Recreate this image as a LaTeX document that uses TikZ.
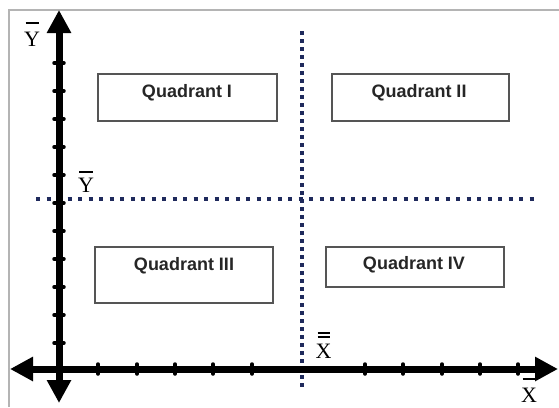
\documentclass[tikz,border=0pt]{standalone}
\usepackage{fontspec}
\setmainfont{Liberation Serif}
\newfontfamily\qfont{Liberation Sans}
\usetikzlibrary{arrows.meta}
\definecolor{navy}{HTML}{1F2A5C}
\definecolor{boxgray}{HTML}{555555}
\definecolor{framegray}{HTML}{B4B4B4}
\begin{document}
\begin{tikzpicture}[x=1pt,y=-1pt,
  bigtip/.tip={Triangle[width=23pt,length=23pt]},
  axisline/.style={line width=7pt,bigtip-bigtip},
  tickmark/.style={line width=3.5pt,line cap=round},
  dotv/.style={navy,line width=3.5pt,dash pattern=on 3.5pt off 4.5pt},
  doth/.style={navy,line width=4pt,dash pattern=on 4pt off 6.5pt},
  qbox/.style={draw=boxgray,line width=1.5pt,fill=white,inner sep=0pt},
  qtext/.style={font=\qfont\bfseries\fontsize{18}{20}\selectfont,text=black!85,inner sep=0pt},
  barlbl/.style={font=\fontsize{22}{22}\selectfont,align=center,inner sep=0pt}
]
\useasboundingbox (0,0) rectangle (559,407);
% frame
\draw[framegray,line width=1.5pt] (9,407) -- (9,10) -- (559,10);
% coordinates
\coordinate (ytop) at (59,10);
\coordinate (ybot) at (59,403);
\coordinate (xleft) at (10,369);
\coordinate (xright) at (558,369);
\coordinate (vtop) at (302,31);
\coordinate (vbot) at (302,387);
\coordinate (hleft) at (36,199);
\coordinate (hright) at (536,199);
% dotted mean lines
\draw[dotv] (vtop) -- (vbot);
\draw[doth] (hleft) -- (hright);
% axes
\draw[axisline] (ybot) -- (ytop);
\draw[axisline] (xleft) -- (xright);
\foreach \y in {63,91,...,343} \draw[tickmark] (54,\y) -- (64,\y);
\foreach \x in {98,137,175,213,252,365,403,442,480,518} \draw[tickmark] (\x,364) -- (\x,374);
% quadrant boxes
\node[qbox,minimum width=179pt,minimum height=47pt] (q1) at (187.5,97.5) {};
\node[qtext] (t1) at (187,93) {Quadrant I};
\node[qbox,minimum width=177pt,minimum height=47pt] (q2) at (420.5,97.5) {};
\node[qtext] (t2) at (419,93) {Quadrant II};
\node[qbox,minimum width=178pt,minimum height=56pt] (q3) at (184,275) {};
\node[qtext] (t3) at (184,266) {Quadrant III};
\node[qbox,minimum width=178pt,minimum height=40pt] (q4) at (415,267) {};
\node[qtext] (t4) at (414,265) {Quadrant IV};
% labels
\node[barlbl] (ybar1) at (32,34) {\rule{13pt}{1.6pt}\\[0.5pt]Y};
\node[barlbl] (ybar2) at (86,182) {\rule{14pt}{1.6pt}\\[-2pt]Y};
\node[barlbl] (xbarbar) at (323.5,345) {\rule{12pt}{1.5pt}\\[-18pt]\rule{12pt}{1.5pt}\\[-1.5pt]X};
\node[barlbl] (xbar) at (529,390) {\rule{13pt}{1.6pt}\\[0.5pt]X};
\end{tikzpicture}
\end{document}
